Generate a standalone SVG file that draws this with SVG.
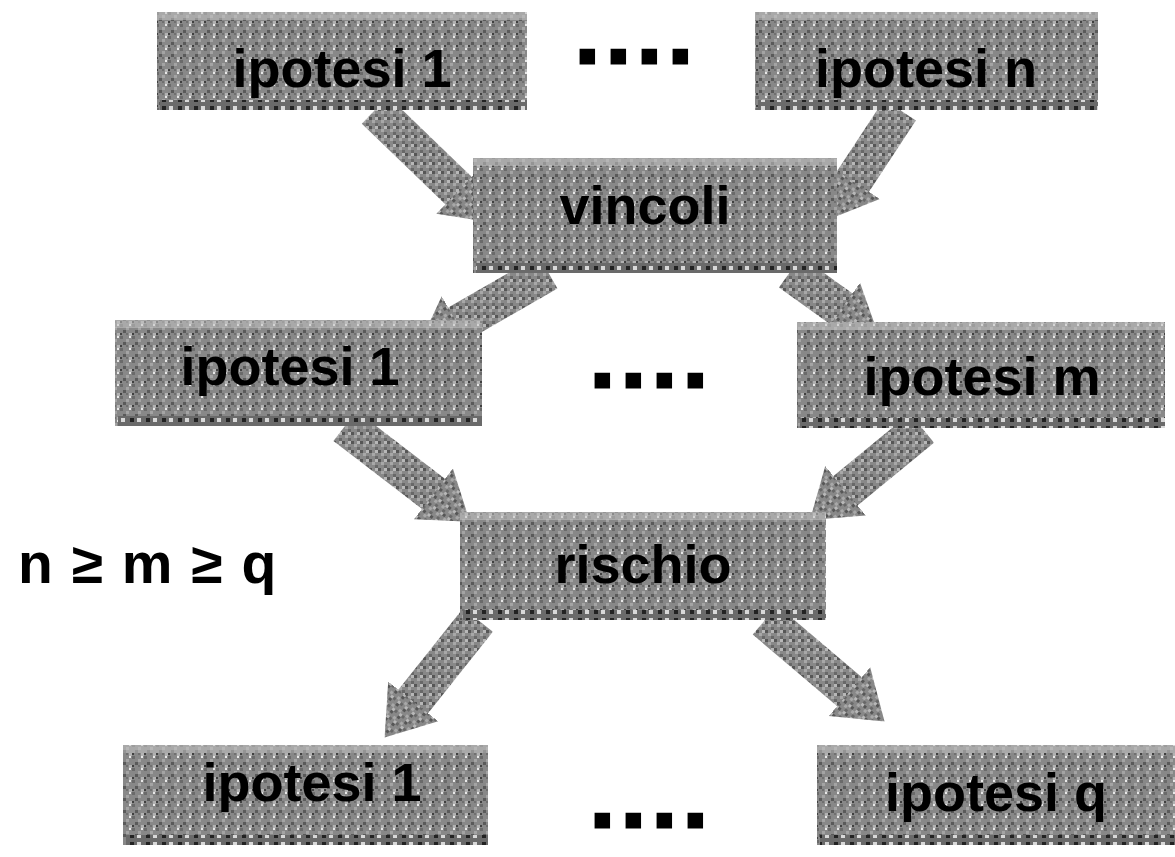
<svg xmlns="http://www.w3.org/2000/svg" width="1175" height="857" viewBox="0 0 1175 857">
<style>
.lbl{font-family:"Liberation Sans",Arial,sans-serif;font-weight:bold;font-size:54px;fill:#000;text-anchor:middle}
.dots{font-family:"Liberation Sans",Arial,sans-serif;font-weight:bold;font-size:60px;fill:#000;stroke:#000;stroke-width:7;stroke-linejoin:miter;letter-spacing:14.3px}
.box{fill:url(#tex)}
.top{fill:#c4c4c4;opacity:.55}
.bot{fill:url(#btex)}
.arr{stroke:url(#atex);stroke-width:38;fill:none;marker-end:url(#head)}
</style>
<defs>
<pattern id="tex" width="12" height="12" patternUnits="userSpaceOnUse">
<rect width="12" height="12" fill="#888"/>
<rect x="0" y="0" width="3" height="3" fill="#6a6a6a"/>
<rect x="6" y="3" width="3" height="3" fill="#a4a4a4"/>
<rect x="3" y="6" width="3" height="3" fill="#5a5a5a"/>
<rect x="9" y="9" width="3" height="3" fill="#b2b2b2"/>
<rect x="9" y="0" width="2" height="2" fill="#e8e8e8"/>
<rect x="0" y="9" width="2" height="2" fill="#404040"/>
<rect x="6" y="9" width="2" height="2" fill="#707070"/>
</pattern>
<pattern id="btex" width="16" height="8" patternUnits="userSpaceOnUse">
<rect width="16" height="8" fill="#6a6a6a"/>
<rect x="2" y="2" width="4" height="4" fill="#222"/>
<rect x="9" y="2" width="4" height="4" fill="#d8d8d8"/>
</pattern>
<pattern id="atex" width="9" height="9" patternUnits="userSpaceOnUse">
<rect width="9" height="9" fill="#888"/>
<rect x="0" y="0" width="3" height="3" fill="#565656"/>
<rect x="3" y="3" width="3" height="3" fill="#a8a8a8"/>
<rect x="6" y="6" width="3" height="3" fill="#686868"/>
<rect x="6" y="0" width="3" height="3" fill="#b8b8b8"/>
</pattern>
<marker id="head" markerUnits="userSpaceOnUse" markerWidth="48" markerHeight="70" viewBox="-2 -35 48 70" refX="0" refY="0" orient="auto">
<path d="M-2,-32 L44,0 L-2,32 z" fill="url(#atex)"/>
</marker>
</defs>

<g id="connectors">
<line class="arr" x1="375" y1="110" x2="460" y2="192"/>
<line class="arr" x1="900" y1="110" x2="852" y2="183"/>
<line class="arr" x1="548" y1="272" x2="456" y2="325"/>
<line class="arr" x1="790" y1="272" x2="843" y2="310"/>
<line class="arr" x1="345" y1="426" x2="435" y2="495"/>
<line class="arr" x1="922" y1="428" x2="844" y2="492"/>
<line class="arr" x1="478" y1="620" x2="412" y2="703"/>
<line class="arr" x1="765" y1="620" x2="851" y2="693"/>
</g>

<g id="n_ip1_top">
<rect class="box" x="157" y="12" width="370" height="98"/>
<rect class="top" x="157" y="12" width="370" height="8"/>
<rect class="bot" x="160" y="100" width="367" height="10"/>
<text class="lbl" x="342" y="87">ipotesi 1</text>
</g>
<g id="n_ipn_top">
<rect class="box" x="755" y="12" width="343" height="98"/>
<rect class="top" x="755" y="12" width="343" height="8"/>
<rect class="bot" x="758" y="100" width="340" height="10"/>
<text class="lbl" x="926" y="87">ipotesi n</text>
</g>
<g id="n_vincoli">
<rect class="box" x="473" y="158" width="364" height="115"/>
<rect class="top" x="473" y="158" width="364" height="8"/>
<rect class="bot" x="476" y="263" width="361" height="10"/>
<text class="lbl" x="645" y="224">vincoli</text>
</g>
<g id="n_ip1_mid">
<rect class="box" x="115" y="320" width="367" height="106"/>
<rect class="top" x="115" y="320" width="367" height="8"/>
<rect class="bot" x="118" y="416" width="364" height="10"/>
<text class="lbl" x="290" y="385">ipotesi 1</text>
</g>
<g id="n_ipm_mid">
<rect class="box" x="797" y="322" width="368" height="106"/>
<rect class="top" x="797" y="322" width="368" height="8"/>
<rect class="bot" x="800" y="418" width="365" height="10"/>
<text class="lbl" x="982" y="395">ipotesi m</text>
</g>
<g id="n_rischio">
<rect class="box" x="460" y="512" width="366" height="108"/>
<rect class="top" x="460" y="512" width="366" height="8"/>
<rect class="bot" x="463" y="610" width="363" height="10"/>
<text class="lbl" x="643" y="583">rischio</text>
</g>
<g id="n_ip1_bot">
<rect class="box" x="123" y="745" width="365" height="100"/>
<rect class="top" x="123" y="745" width="365" height="8"/>
<rect class="bot" x="126" y="835" width="362" height="10"/>
<text class="lbl" x="312" y="801">ipotesi 1</text>
</g>
<g id="n_ipq_bot">
<rect class="box" x="817" y="745" width="358" height="100"/>
<rect class="top" x="817" y="745" width="358" height="8"/>
<rect class="bot" x="820" y="835" width="355" height="10"/>
<text class="lbl" x="996" y="811">ipotesi q</text>
</g>

<g id="ellipses">
<text class="dots" x="579" y="60.5">....</text>
<text class="dots" x="594" y="384.5">....</text>
<text class="dots" x="594" y="824.5">....</text>
</g>
<text id="relation" x="18" y="583" font-family="Liberation Sans, Arial, sans-serif" font-weight="bold" font-size="57" fill="#000" letter-spacing="1.5">n ≥ m ≥ q</text>
</svg>
